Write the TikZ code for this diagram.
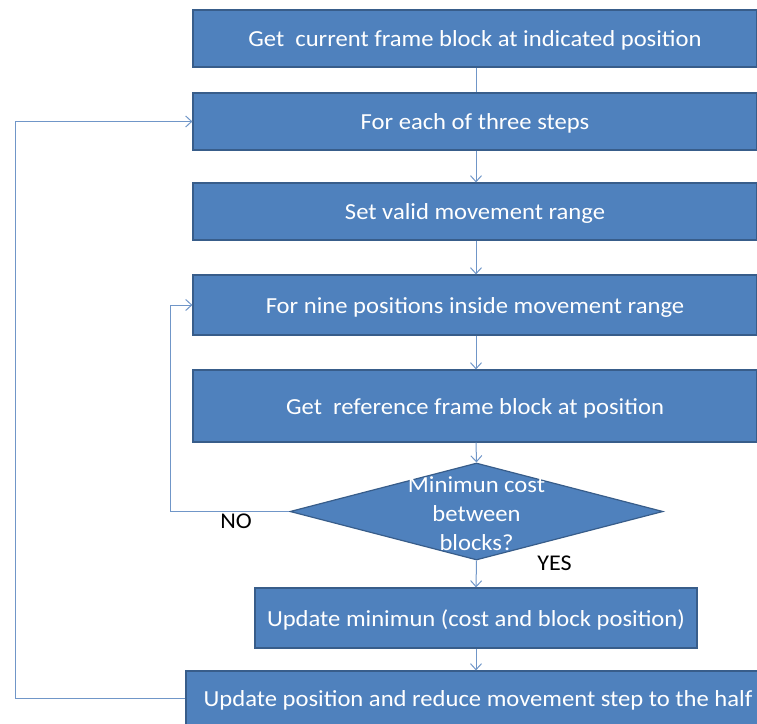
\documentclass[tikz,border=0pt]{standalone}
\usepackage{fontspec}
\setmainfont{Carlito}[FakeStretch=1.07]
\usetikzlibrary{shapes.geometric,arrows.meta}
\definecolor{boxfill}{HTML}{4F81BD}
\definecolor{boxline}{HTML}{385D8A}
\definecolor{conn}{HTML}{7096C8}
\tikzset{
  stepbox/.style={draw=boxline, line width=1.2pt, fill=boxfill, text=white, inner sep=0pt, text height=16.5pt, text depth=0pt, font=\fontsize{23}{26}\selectfont},
  conn/.style={draw=conn, line width=1pt},
  arr/.style={conn, -{Straight Barb[length=6pt,width=11pt]}},
  lab/.style={font=\fontsize{22.5}{24}\selectfont, text=black}
}
\begin{document}
\begin{tikzpicture}[x=1pt,y=-1pt]
\useasboundingbox (0,0) rectangle (757,723);
\clip (0,0) rectangle (757,723);
\node[stepbox, minimum width=564pt, minimum height=57pt] (b1) at (475,38.5) {Get\ \ current frame block at indicated position};
\node[stepbox, minimum width=564pt, minimum height=57pt] (b2) at (475,121.5) {For each of three steps};
\node[stepbox, minimum width=564pt, minimum height=57pt] (b3) at (475,211.5) {Set valid movement range};
\node[stepbox, minimum width=564pt, minimum height=60pt] (b4) at (475,305) {For nine positions inside movement range};
\node[stepbox, minimum width=564pt, minimum height=72pt] (b5) at (475,406) {Get\ \ reference frame block at position};
\node[draw=boxline, line width=1.2pt, fill=boxfill, diamond, inner sep=0pt, minimum width=373pt, minimum height=97pt] (d) at (476.5,511.5) {};
\node[text=white, align=center, font=\fontsize{23}{29}\selectfont] (dt) at (476.5,513.5) {Minimun cost\\between\\blocks?};
\node[stepbox, minimum width=442pt, minimum height=60pt] (b6) at (476,618) {Update minimun (cost and block position)};
\node[stepbox, minimum width=584pt, minimum height=54pt] (b7) at (478,698) {Update position and reduce movement step to the half};
\coordinate (c1) at (170,511.5);
\coordinate (c2) at (15,698);
\draw[conn] (b1.south -| 476,0) -- (b2.north -| 476,0);
\draw[arr] (b2.south -| 476,0) -- (b3.north -| 476,0);
\draw[arr] (b3.south -| 476,0) -- (b4.north -| 476,0);
\draw[arr] (b4.south -| 476,0) -- (b5.north -| 476,0);
\draw[arr] (b5.south -| 476,0) -- (d.north);
\draw[arr] (d.south) -- (b6.north -| 476,0);
\draw[arr] (b6.south -| 476,0) -- (b7.north -| 476,0);
\draw[arr] (d.west) -- (c1) |- (b4.west);
\draw[arr] (b7.west) -- (c2) |- (b2.west);
\node[lab] (no) at (236,521) {NO};
\node[lab] (yes) at (554.5,563) {YES};
\end{tikzpicture}
\end{document}
